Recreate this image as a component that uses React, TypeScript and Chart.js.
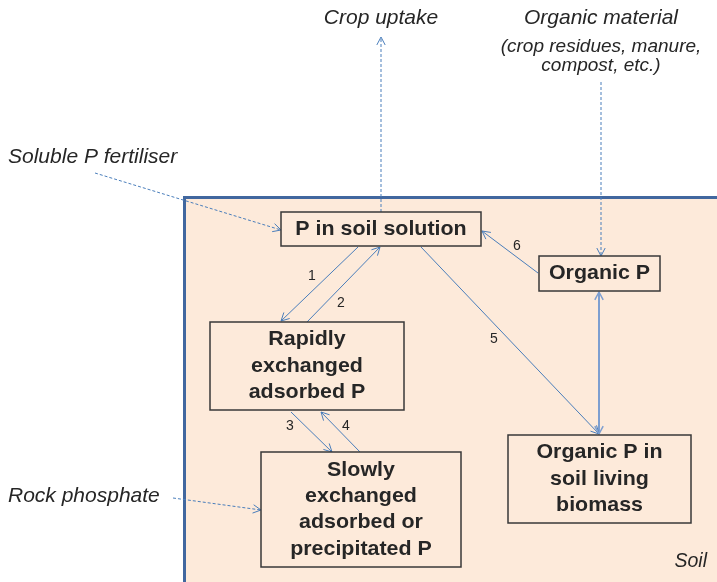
import { useEffect, useRef } from "react";
import { Chart, registerables } from "chart.js";
Chart.register(...registerables);

// Diagram units: the 717 x 582 grid of the reference
const boxLabels = [
  ["P in soil solution"],
  ["Organic P"],
  ["Rapidly", "exchanged", "adsorbed P"],
  ["Slowly", "exchanged", "adsorbed or", "precipitated P"],
  ["Organic P in", "soil living", "biomass"],
];
const boxLeft = [281, 539, 210, 261, 508];
const boxRight = [481, 660, 404, 461, 691];
const boxTop = [212, 256, 322, 452, 435];
const boxBottom = [246, 291, 410, 567, 523];

// Flow arrows: from -> to
const arrowFromX = [381, 601, 95, 173, 358, 307, 291, 360, 421, 538, 599];
const arrowFromY = [212, 82, 173, 498, 247, 322, 412, 452, 247, 273, 434];
const arrowToX = [381, 601, 281, 261, 281, 380, 332, 321, 599, 482, 599];
const arrowToY = [37, 256, 230, 510, 321, 247, 452, 412, 434, 231, 292];
const arrowDashed = [true, true, true, true, false, false, false, false, false, false, false];
const arrowBothEnds = [false, false, false, false, false, false, false, false, false, false, true];

// Numbered flows
const flowNumbers = ["1", "2", "3", "4", "5", "6"];
const flowNumX = [312, 341, 290, 346, 494, 517];
const flowNumY = [276, 303, 426, 426, 339, 246];

// External inputs / outputs
const outsideLabels = ["Crop uptake", "Organic material", "Soluble P fertiliser", "Rock phosphate"];
const outsideX = [381, 601, 8, 8];
const outsideY = [18, 18, 157, 496];
const subLabels = ["(crop residues, manure,", "compost, etc.)"];
const subX = [601, 601];
const subY = [47, 66];

// Soil region
const soilLeft = 184.5;
const soilTop = 197.5;
const soilLabel = "Soil";

const FILL = "#FDEADA";
const BLUE = "#4A7EBB";
const TEXT = "#262626";

function stretchedText(ctx: CanvasRenderingContext2D, text: string, x: number, y: number, font: string, align: CanvasTextAlign, sx: number) {
  ctx.save();
  ctx.translate(x, y);
  ctx.scale(sx, 1);
  ctx.font = font;
  ctx.textAlign = align;
  ctx.textBaseline = "middle";
  ctx.fillStyle = TEXT;
  ctx.fillText(text, 0, 0);
  ctx.restore();
}

function arrowHead(ctx: CanvasRenderingContext2D, fx: number, fy: number, tx: number, ty: number, color: string, width: number) {
  const ang = Math.atan2(ty - fy, tx - fx);
  const len = 9;
  const spread = Math.PI / 6.5;
  ctx.save();
  ctx.strokeStyle = color;
  ctx.lineWidth = width;
  ctx.setLineDash([]);
  ctx.beginPath();
  ctx.moveTo(tx - len * Math.cos(ang - spread), ty - len * Math.sin(ang - spread));
  ctx.lineTo(tx, ty);
  ctx.lineTo(tx - len * Math.cos(ang + spread), ty - len * Math.sin(ang + spread));
  ctx.stroke();
  ctx.restore();
}

const diagramPlugin = {
  id: "diagram",
  beforeDatasetsDraw(chart: any) {
    const { ctx, scales } = chart;
    const xs = scales.x, ys = scales.y;
    const l = xs.getPixelForValue(soilLeft);
    const t = ys.getPixelForValue(soilTop);
    const r = xs.getPixelForValue(730);
    const b = ys.getPixelForValue(600);
    ctx.save();
    ctx.fillStyle = FILL;
    ctx.fillRect(l, t, r - l, b - t);
    ctx.strokeStyle = "#41679F";
    ctx.lineWidth = 3;
    ctx.beginPath();
    ctx.moveTo(l, b);
    ctx.lineTo(l, t);
    ctx.lineTo(r, t);
    ctx.stroke();
    ctx.restore();
  },
  afterDatasetsDraw(chart: any) {
    const { ctx, scales } = chart;
    const xs = scales.x, ys = scales.y;
    // arrow heads
    for (let i = 0; i < arrowFromX.length; i++) {
      const fx = xs.getPixelForValue(arrowFromX[i]);
      const fy = ys.getPixelForValue(arrowFromY[i]);
      const tx = xs.getPixelForValue(arrowToX[i]);
      const ty = ys.getPixelForValue(arrowToY[i]);
      const col = arrowBothEnds[i] ? "#7E9FD0" : BLUE;
      const w = arrowBothEnds[i] ? 1.5 : 1;
      arrowHead(ctx, fx, fy, tx, ty, col, w);
      if (arrowBothEnds[i]) arrowHead(ctx, tx, ty, fx, fy, col, w);
    }
    // boxes
    for (let i = 0; i < boxLabels.length; i++) {
      const l = xs.getPixelForValue(boxLeft[i]);
      const r = xs.getPixelForValue(boxRight[i]);
      const t = ys.getPixelForValue(boxTop[i]);
      const b = ys.getPixelForValue(boxBottom[i]);
      ctx.save();
      ctx.fillStyle = FILL;
      ctx.fillRect(l, t, r - l, b - t);
      ctx.strokeStyle = "#383838";
      ctx.lineWidth = 1.5;
      ctx.strokeRect(l, t, r - l, b - t);
      ctx.restore();
      const lines = boxLabels[i];
      const cx = (l + r) / 2;
      const cy = (t + b) / 2;
      const lh = 26.3;
      lines.forEach((s, k) => {
        stretchedText(ctx, s, cx, cy + (k - (lines.length - 1) / 2) * lh, "bold 21px 'Liberation Sans', Arial, sans-serif", "center", 1.02);
      });
    }
    // flow numbers
    flowNumbers.forEach((s, i) => {
      stretchedText(ctx, s, xs.getPixelForValue(flowNumX[i]), ys.getPixelForValue(flowNumY[i]), "14px 'Liberation Sans', Arial, sans-serif", "center", 1.0);
    });
    // outside labels
    outsideLabels.forEach((s, i) => {
      const align: CanvasTextAlign = i < 2 ? "center" : "left";
      stretchedText(ctx, s, xs.getPixelForValue(outsideX[i]), ys.getPixelForValue(outsideY[i]), "italic 21px 'Liberation Sans', Arial, sans-serif", align, 1.0);
    });
    subLabels.forEach((s, i) => {
      stretchedText(ctx, s, xs.getPixelForValue(subX[i]), ys.getPixelForValue(subY[i]), "italic 19px 'Liberation Sans', Arial, sans-serif", "center", 1.0);
    });
    stretchedText(ctx, soilLabel, xs.getPixelForValue(707), ys.getPixelForValue(562), "italic 19.5px 'Liberation Sans', Arial, sans-serif", "right", 1.0);
  },
};

export default function App() {
  const ref = useRef<HTMLCanvasElement | null>(null);
  useEffect(() => {
    document.body.style.margin = "0";
    const canvas = ref.current;
    if (!canvas) return;
    const datasets = arrowFromX.map((_, i) => ({
      label: "flow " + i,
      data: [
        { x: arrowFromX[i], y: arrowFromY[i] },
        { x: arrowToX[i], y: arrowToY[i] },
      ],
      showLine: true,
      borderColor: arrowBothEnds[i] ? "#7E9FD0" : BLUE,
      borderWidth: arrowBothEnds[i] ? 2 : 1,
      borderDash: arrowDashed[i] ? [3, 2] : [],
      pointRadius: 0,
      fill: false,
    }));
    const chart = new Chart(canvas, {
      type: "scatter",
      data: { datasets },
      options: {
        animation: false,
        responsive: false,
        maintainAspectRatio: false,
        layout: { padding: 0 },
        plugins: { legend: { display: false }, tooltip: { enabled: false } },
        scales: {
          x: { type: "linear", min: 0, max: 717, display: false },
          y: { type: "linear", min: 0, max: 582, reverse: true, display: false },
        },
      },
      plugins: [diagramPlugin],
    } as any);
    return () => chart.destroy();
  }, []);
  return <canvas ref={ref} width={717} height={582} style={{ display: "block" }} />;
}
